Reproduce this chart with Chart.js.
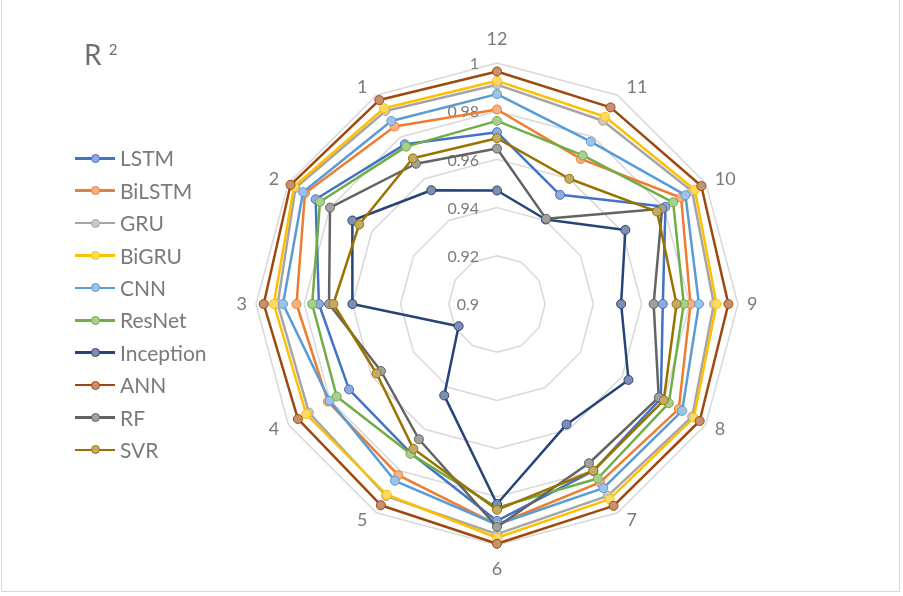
<!DOCTYPE html>
<html>
<head>
<meta charset="utf-8">
<script src="https://cdn.jsdelivr.net/npm/chart.js@4.4.1/dist/chart.umd.min.js"></script>
<style>
  html, body { margin: 0; padding: 0; background: #fff; }
  #wrap { position: relative; width: 903px; height: 596px; overflow: hidden; font-family: Lato, "Open Sans", sans-serif; }
  #frame { position: absolute; left: 1px; top: -2px; width: 899px; height: 594px; border: 1px solid #d9d9d9; box-sizing: border-box; }
  #chart { position: absolute; left: 0; top: 0; }
  #title { position: absolute; left: 84px; top: 34px; font-size: 28px; color: #6f6f6f; line-height: 40px; white-space: nowrap; }
  #title sup { font-size: 15px; position: relative; top: 8px; vertical-align: top; line-height: 15px; }
  #legend { position: absolute; left: 0; top: 0; }
  .row { position: absolute; left: 75px; height: 24px; display: flex; align-items: center; white-space: nowrap; }
  .swatch { position: relative; width: 40px; height: 24px; }
  .swatch .ln { position: absolute; left: 0; top: 10.75px; width: 40px; height: 2.5px; }
  .swatch .dot { position: absolute; left: 15.5px; top: 7.5px; width: 7px; height: 7px; border-radius: 50%; border: 1px solid; }
  .row .txt { margin-left: 5px; font-size: 21px; color: #7a7a7a; line-height: 24px; }
</style>
</head>
<body>
<div id="wrap">
  <canvas id="chart" width="903" height="596"></canvas>
  <div id="frame"></div>
  <div id="title">R <sup>2</sup></div>
  <div id="legend"></div>
</div>
<script>
// Spokes, listed clockwise from the top
const categories = ['12', '11', '10', '9', '8', '7', '6', '5', '4', '3', '2', '1'];

// R² of each model on each spoke (same order as categories)
const seriesNames = ['LSTM', 'BiLSTM', 'GRU', 'BiGRU', 'CNN', 'ResNet', 'Inception', 'ANN', 'RF', 'SVR'];
const lstm      = [0.9713, 0.9523, 0.9807, 0.9688, 0.9785, 0.9800, 0.9900, 0.9715, 0.9709, 0.9739, 0.9869, 0.9765];
const bilstm    = [0.9807, 0.9695, 0.9882, 0.9803, 0.9871, 0.9855, 0.9915, 0.9820, 0.9810, 0.9832, 0.9920, 0.9850];
const gru       = [0.9910, 0.9878, 0.9935, 0.9900, 0.9935, 0.9919, 0.9955, 0.9920, 0.9901, 0.9910, 0.9965, 0.9925];
const bigru     = [0.9926, 0.9897, 0.9948, 0.9911, 0.9943, 0.9935, 0.9970, 0.9914, 0.9914, 0.9926, 0.9973, 0.9938];
const cnn       = [0.9871, 0.9778, 0.9903, 0.9838, 0.9887, 0.9882, 0.9915, 0.9847, 0.9802, 0.9888, 0.9929, 0.9877];
const resnet    = [0.9760, 0.9712, 0.9844, 0.9775, 0.9823, 0.9836, 0.9845, 0.9718, 0.9768, 0.9767, 0.9848, 0.9754];
const inception = [0.9471, 0.9405, 0.9615, 0.9515, 0.9630, 0.9577, 0.9830, 0.9438, 0.9184, 0.9600, 0.9693, 0.9545];
const ann       = [0.9965, 0.9942, 0.9979, 0.9960, 0.9971, 0.9967, 0.9995, 0.9964, 0.9954, 0.9968, 0.9989, 0.9977];
const rf        = [0.9645, 0.9408, 0.9791, 0.9650, 0.9775, 0.9763, 0.9925, 0.9648, 0.9556, 0.9697, 0.9800, 0.9672];
const svr       = [0.9688, 0.9600, 0.9767, 0.9745, 0.9799, 0.9799, 0.9854, 0.9694, 0.9577, 0.9679, 0.9660, 0.9698];

// Value-axis tick labels
const tickValues = [0.9, 0.92, 0.94, 0.96, 0.98, 1];
const tickLabels = ['0.9', '0.92', '0.94', '0.96', '0.98', '1'];

const seriesValues = [lstm, bilstm, gru, bigru, cnn, resnet, inception, ann, rf, svr];
const seriesColors = ['#4472C4', '#ED7D31', '#A5A5A5', '#FFC000', '#5B9BD5',
                      '#70AD47', '#264478', '#9E480E', '#636363', '#997300'];

const TEXT = '#7a7a7a';
const FONT = 'Lato, "Open Sans", sans-serif';

// lighter tint used for marker fills
function tint(hex, k) {
  const n = parseInt(hex.slice(1), 16);
  const c = [(n >> 16) & 255, (n >> 8) & 255, n & 255].map(v => Math.round(v + (255 - v) * k));
  return 'rgb(' + c.join(',') + ')';
}

const datasets = seriesNames.map((name, i) => ({
  label: name,
  data: seriesValues[i],
  borderColor: seriesColors[i],
  backgroundColor: seriesColors[i],
  borderWidth: 2.5,
  borderJoinStyle: 'round',
  fill: false,
  pointRadius: 4.5,
  pointBorderWidth: 1,
  pointBorderColor: seriesColors[i],
  pointBackgroundColor: tint(seriesColors[i], 0.4),
  order: seriesNames.length - i   // later series painted on top
}));

// value labels left of the vertical axis, and spoke labels around the web
const radarText = {
  id: 'radarText',
  beforeDatasetsDraw(chart) {
    const s = chart.scales.r;
    const ctx = chart.ctx;
    ctx.save();
    ctx.fillStyle = TEXT;
    ctx.font = '16px ' + FONT;
    ctx.textAlign = 'right';
    ctx.textBaseline = 'middle';
    tickValues.forEach((v, i) => {
      const d = s.getDistanceFromCenterForValue(v);
      ctx.fillText(tickLabels[i], s.xCenter - 18, s.yCenter - d + 1);
    });

    ctx.font = '18px ' + FONT;
    const R = s.drawingArea;
    categories.forEach((lab, i) => {
      const p = s.getPointPosition(i, R);
      const dx = (p.x - s.xCenter) / R, dy = (p.y - s.yCenter) / R;
      if (Math.abs(dx) < 0.01) {
        ctx.textAlign = 'center';
        ctx.textBaseline = 'middle';
        ctx.fillText(lab, p.x, p.y + dy * 24);
      } else {
        ctx.textAlign = dx > 0 ? 'left' : 'right';
        ctx.textBaseline = 'middle';
        ctx.fillText(lab, p.x + Math.sign(dx) * 9, p.y + dy * 9);
      }
    });
    ctx.restore();
  }
};

new Chart(document.getElementById('chart'), {
  type: 'radar',
  data: { labels: categories, datasets },
  options: {
    responsive: false,
    animation: false,
    devicePixelRatio: 1,
    layout: { padding: { left: 256, right: 165, top: 63, bottom: 51 } },
    plugins: { legend: { display: false }, tooltip: { enabled: false }, title: { display: false } },
    scales: {
      r: {
        min: 0.9,
        max: 1,
        ticks: { stepSize: 0.02, display: false },
        grid: { color: '#d9d9d9', lineWidth: 1.5 },
        angleLines: { display: false },
        pointLabels: { display: false }
      }
    },
    elements: { line: { tension: 0 } }
  },
  plugins: [radarText]
});

// legend rows
const legend = document.getElementById('legend');
seriesNames.forEach((name, i) => {
  const row = document.createElement('div');
  row.className = 'row';
  row.style.top = (158.3 + i * 32.4 - 12) + 'px';
  const sw = document.createElement('div');
  sw.className = 'swatch';
  const ln = document.createElement('div');
  ln.className = 'ln';
  ln.style.background = seriesColors[i];
  const dot = document.createElement('div');
  dot.className = 'dot';
  dot.style.borderColor = seriesColors[i];
  dot.style.background = tint(seriesColors[i], 0.4);
  sw.appendChild(ln);
  sw.appendChild(dot);
  const t = document.createElement('span');
  t.className = 'txt';
  t.textContent = name;
  row.appendChild(sw);
  row.appendChild(t);
  legend.appendChild(row);
});
</script>
</body>
</html>
